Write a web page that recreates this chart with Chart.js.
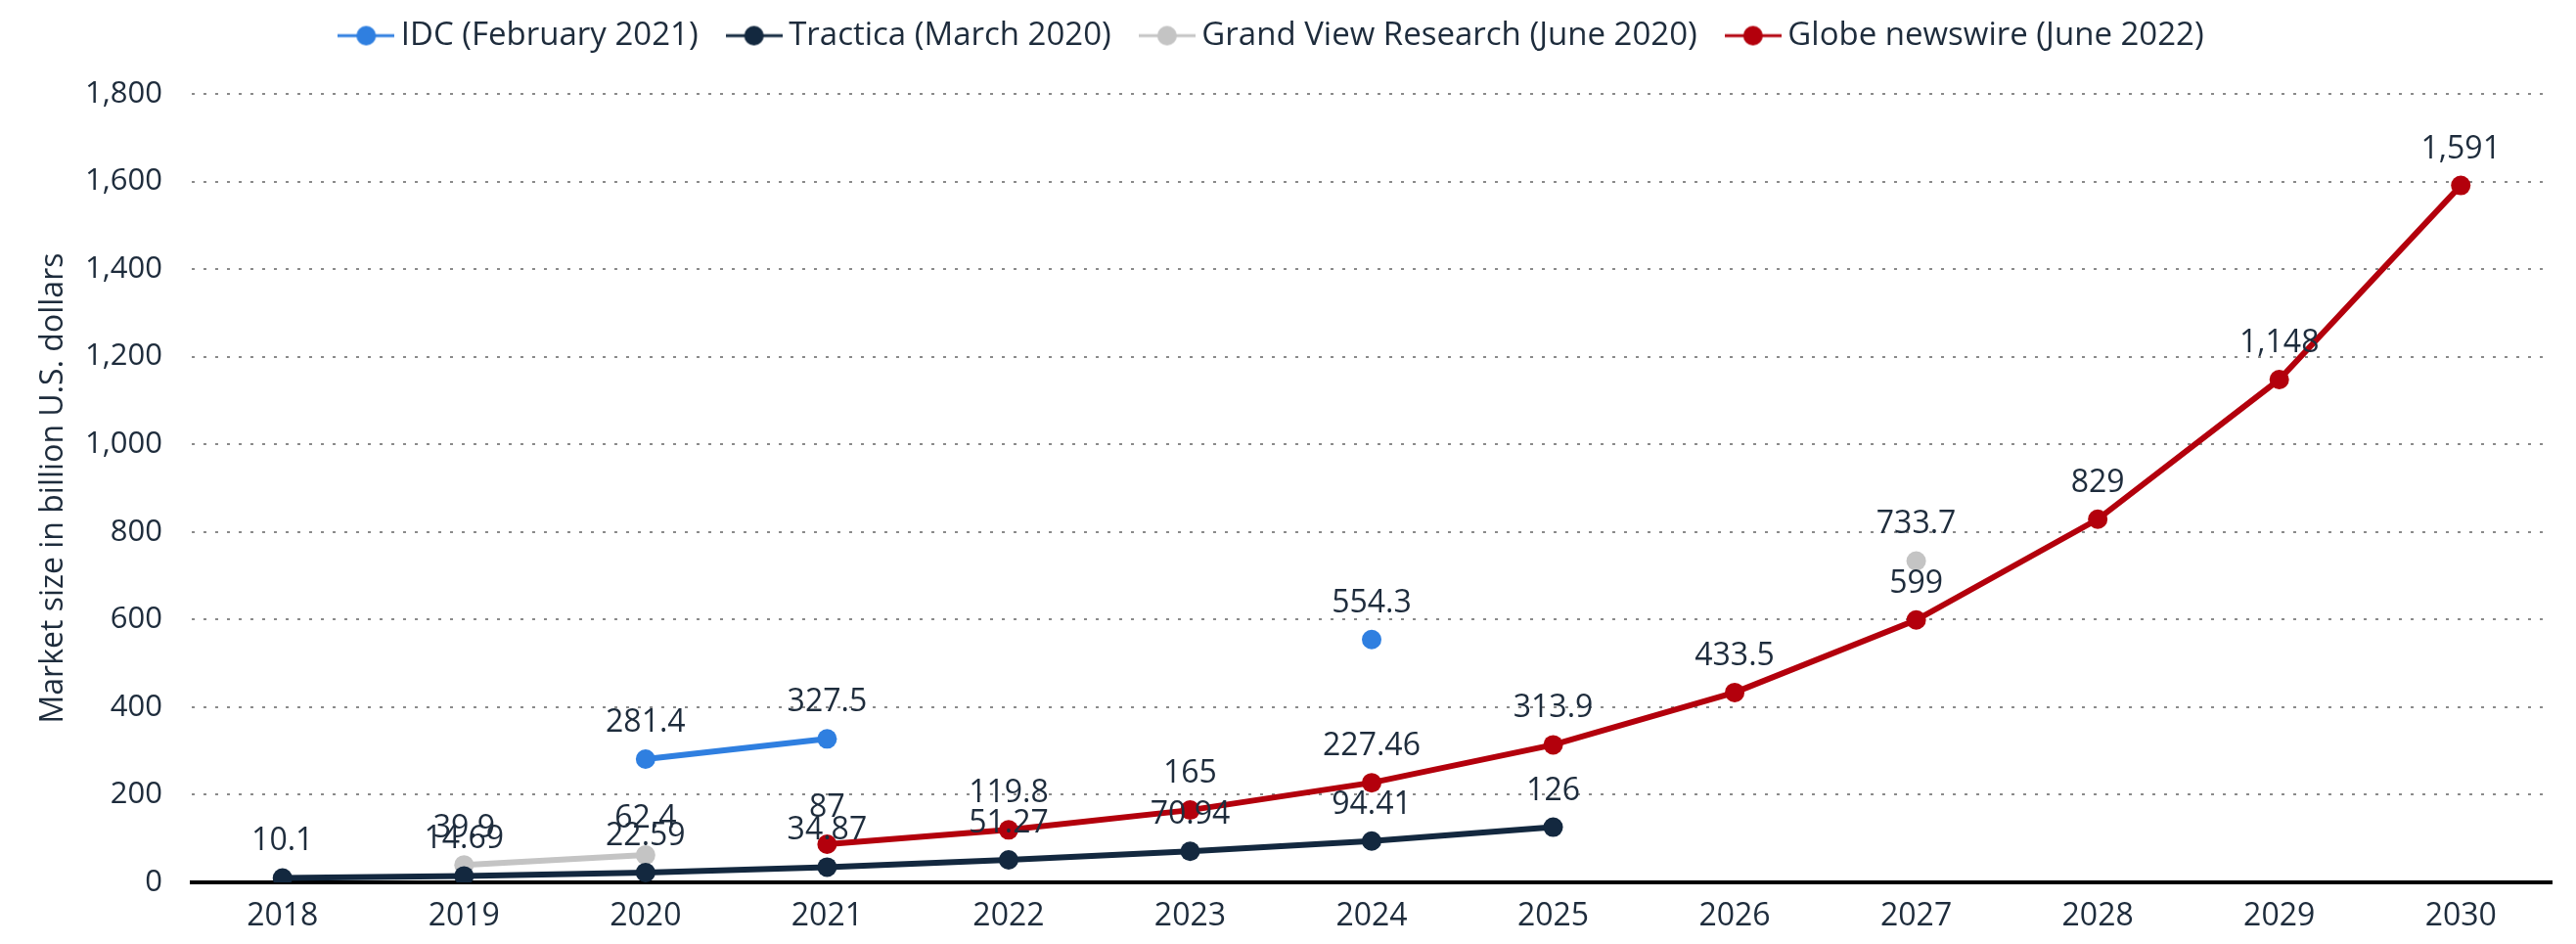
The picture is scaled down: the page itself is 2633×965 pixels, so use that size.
<!DOCTYPE html>
<html>
<head>
<meta charset="utf-8">
<script src="https://cdn.jsdelivr.net/npm/chart.js@4"></script>
<style>
  html, body { margin: 0; padding: 0; background: #fff; }
  #wrap { width: 2633px; height: 965px; }
</style>
</head>
<body>
<div id="wrap"><canvas id="chart" width="2633" height="965"></canvas></div>
<script>
// -------------------------------
// Data
// -------------------------------
const years = ["2018", "2019", "2020", "2021", "2022", "2023", "2024", "2025", "2026", "2027", "2028", "2029", "2030"];
const idc = [null, null, 281.4, 327.5, null, null, 554.3, null, null, null, null, null, null];
const tractica = [10.1, 14.69, 22.59, 34.87, 51.27, 70.94, 94.41, 126, null, null, null, null, null];
const grandView = [null, 39.9, 62.4, null, null, null, null, null, null, 733.7, null, null, null];
const globe = [null, null, null, 87, 119.8, 165, 227.46, 313.9, 433.5, 599, 829, 1148, 1591];
const seriesNames = ["IDC (February 2021)", "Tractica (March 2020)", "Grand View Research (June 2020)", "Globe newswire (June 2022)"];
const seriesColors = ["#2f7fe0", "#13283f", "#c4c4c4", "#b3000c"];
const yTicks = [0, 200, 400, 600, 800, 1000, 1200, 1400, 1600, 1800];

const FONT = "'Open Sans', 'DejaVu Sans', sans-serif";
const TEXT = "#1e2c3c";

// legend marker: line with a dot
function legendMarker(color) {
  const c = document.createElement("canvas");
  c.width = 58; c.height = 22;
  const g = c.getContext("2d");
  g.strokeStyle = color; g.lineWidth = 3;
  g.beginPath(); g.moveTo(0, 11); g.lineTo(58, 11); g.stroke();
  g.fillStyle = color;
  g.beginPath(); g.arc(29, 11, 10, 0, Math.PI * 2); g.fill();
  return c;
}

// value labels above each point
const valueLabels = {
  id: "valueLabels",
  afterDatasetsDraw(chart) {
    const ctx = chart.ctx;
    ctx.save();
    ctx.font = "32px " + FONT;
    ctx.fillStyle = TEXT;
    ctx.textAlign = "center";
    ctx.textBaseline = "alphabetic";
    chart.data.datasets.forEach((ds, i) => {
      const meta = chart.getDatasetMeta(i);
      meta.data.forEach((pt, j) => {
        const v = ds.data[j];
        if (v === null || v === undefined) return;
        ctx.fillText(v.toLocaleString("en-US"), pt.x, pt.y - 28);
      });
    });
    ctx.restore();
  },
};

// fixed legend height
const legendHeight = {
  id: "legendHeight",
  beforeInit(chart) {
    const fit = chart.legend.fit;
    chart.legend.fit = function () {
      fit.bind(chart.legend)();
      this.height = 114;
    };
  },
};

const datasets = [idc, tractica, grandView, globe].map((d, i) => ({
  label: seriesNames[i],
  data: d,
  borderColor: seriesColors[i],
  backgroundColor: seriesColors[i],
  pointBackgroundColor: seriesColors[i],
  pointBorderWidth: 0,
  pointRadius: 10,
  borderWidth: 6,
  spanGaps: false,
  pointStyle: "circle",
}));

new Chart(document.getElementById("chart"), {
  type: "line",
  data: { labels: years, datasets },
  plugins: [valueLabels, legendHeight],
  options: {
    responsive: false,
    animation: false,
    layout: { padding: { top: -18, right: 25, bottom: 0, left: 0 } },
    plugins: {
      tooltip: { enabled: false },
      legend: {
        position: "top",
        labels: {
          font: { family: FONT, size: 33 },
          color: TEXT,
          padding: 38,
          usePointStyle: true,
          pointStyleWidth: 38,
          generateLabels(chart) {
            return chart.data.datasets.map((ds, i) => ({
              text: ds.label,
              pointStyle: legendMarker(seriesColors[i]),
              fillStyle: seriesColors[i],
              strokeStyle: seriesColors[i],
              lineWidth: 0,
              fontColor: TEXT,
              datasetIndex: i,
            }));
          },
        },
      },
    },
    scales: {
      x: {
        offset: true,
        grid: { display: false },
        border: { display: true, color: "#000", width: 4 },
        ticks: { font: { family: FONT, size: 32 }, color: TEXT, padding: 8 },
        afterFit(scale) { scale.height = 63; },
      },
      y: {
        min: 0,
        max: 1800,
        afterBuildTicks(scale) { scale.ticks = yTicks.map((v) => ({ value: v })); },
        border: { display: false, dash: [3, 9] },
        grid: {
          color: (c) => (c.tick && c.tick.value === 0 ? "rgba(0,0,0,0)" : "#8a8a8a"),
          lineWidth: 2,
          drawTicks: false,
        },
        ticks: { font: { family: FONT, size: 31 }, color: TEXT, padding: 30 },
        title: {
          display: true,
          text: "Market size in billion U.S. dollars",
          font: { family: FONT, size: 32 },
          color: TEXT,
          padding: { top: 36, bottom: 0 },
        },
        afterFit(scale) { scale.width = 196; },
      },
    },
  },
});
</script>
</body>
</html>
